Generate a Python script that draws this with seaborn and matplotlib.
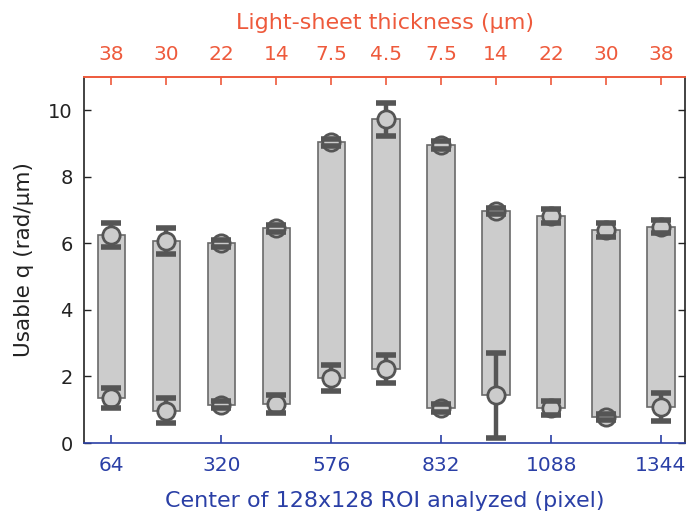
import matplotlib
matplotlib.use("Agg")
import pandas as pd
import matplotlib.pyplot as plt
import seaborn as sns

# DATA
roi_center = [64, 192, 320, 448, 576, 704, 832, 960, 1088, 1216, 1344]
thickness_labels = ["38", "30", "22", "14", "7.5", "4.5", "7.5", "14", "22", "30", "38"]
q_low = [1.35, 0.97, 1.15, 1.17, 1.95, 2.22, 1.05, 1.44, 1.05, 0.78, 1.08]
q_high = [6.25, 6.07, 6.0, 6.45, 9.04, 9.73, 8.95, 6.97, 6.82, 6.4, 6.5]
err_low = [0.3, 0.37, 0.1, 0.27, 0.4, 0.42, 0.12, 1.28, 0.2, 0.1, 0.43]
err_high = [0.35, 0.4, 0.1, 0.1, 0.1, 0.5, 0.12, 0.1, 0.2, 0.2, 0.2]
bottom_ticks = [64, 320, 576, 832, 1088, 1344]

# COLORS
TOP_COLOR = "#ee5a3c"
BOTTOM_COLOR = "#2a3fa6"
DARK = "#555555"
LIGHT = "#cccccc"

sns.set_style("ticks")
plt.rcParams["font.family"] = ["DejaVu Sans"]

df = pd.DataFrame({
    "roi": roi_center * 2,
    "q": q_low + q_high,
    "err": err_low + err_high,
})

fig = plt.figure(figsize=(7, 5.22), dpi=100)
ax = fig.add_axes([0.12, 0.1513, 0.8586, 0.7012])

# usable range bars
ax.bar(
    roi_center,
    [h - l for h, l in zip(q_high, q_low)],
    bottom=q_low,
    width=64,
    color=LIGHT,
    edgecolor="#6a6a6a",
    linewidth=1.2,
    zorder=1
)

# error bars (caps drawn over the markers)
eb = ax.errorbar(
    df["roi"], df["q"], yerr=df["err"],
    fmt="none", ecolor=DARK, elinewidth=3.2,
    capsize=7, capthick=4, zorder=2
)
for cap in eb[1]:
    cap.set_zorder(4)

# markers
sns.scatterplot(
    data=df, x="roi", y="q", ax=ax,
    s=155, color=LIGHT, edgecolor=DARK, linewidth=2,
    zorder=3, legend=False
)

ax.set_xlim(0, 1400)
ax.set_ylim(0, 11)
ax.set_yticks([0, 2, 4, 6, 8, 10])
ax.set_xticks(bottom_ticks)
ax.tick_params(axis="y", direction="in", labelsize=14, right=True,
               length=5, width=1, pad=8, colors="#222222")
ax.tick_params(axis="x", direction="in", labelsize=14.5, length=6, width=1.2,
               pad=9, colors=BOTTOM_COLOR, labelcolor=BOTTOM_COLOR)
ax.set_xlabel("Center of 128x128 ROI analyzed (pixel)", fontsize=16,
              color=BOTTOM_COLOR, labelpad=12)
ax.set_ylabel("Usable q (rad/\u03bcm)", fontsize=15.5, color="#222222", labelpad=10)
for side in ["left", "right"]:
    ax.spines[side].set_color("#222222")
    ax.spines[side].set_linewidth(1.2)
ax.spines["bottom"].set_color(BOTTOM_COLOR)
ax.spines["bottom"].set_linewidth(1.2)
ax.spines["top"].set_color(TOP_COLOR)
ax.spines["top"].set_linewidth(1.2)

# top axis
ax_top = ax.twiny()
ax_top.set_xlim(ax.get_xlim())
ax_top.set_xticks(roi_center)
ax_top.set_xticklabels(thickness_labels)
ax_top.tick_params(axis="x", direction="in", labelsize=14.5, length=6, width=1.2,
                   pad=9, colors=TOP_COLOR, labelcolor=TOP_COLOR)
ax_top.set_xlabel("Light-sheet thickness (\u03bcm)", fontsize=16,
                  color=TOP_COLOR, labelpad=12)
ax_top.spines["top"].set_color(TOP_COLOR)
ax_top.spines["top"].set_linewidth(1.2)
ax_top.spines["bottom"].set_visible(False)
ax_top.spines["left"].set_visible(False)
ax_top.spines["right"].set_visible(False)

plt.savefig("out.png", dpi=100)
plt.close()
